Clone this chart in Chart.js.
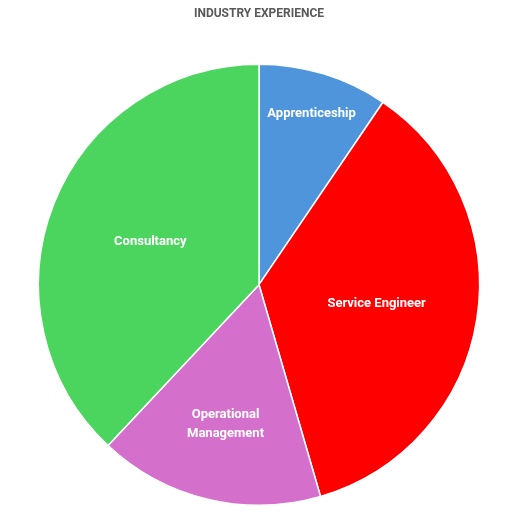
<!DOCTYPE html>
<html><head><meta charset="utf-8">
<script src="https://cdn.jsdelivr.net/npm/chart.js@4/dist/chart.umd.min.js"></script>
<style>html,body{margin:0;padding:0;background:#fff}#w{width:514px;height:532px}</style>
</head><body><div id="w"><canvas id="c"></canvas></div>
<script>
const categories = ["Apprenticeship", "Service Engineer", "Operational Management", "Consultancy"];
const labelLines = [["Apprenticeship"], ["Service Engineer"], ["Operational", "Management"], ["Consultancy"]];
const values = [9.5, 36, 16.5, 38];
const colors = ["#4F95DB", "#FF0000", "#D46FCB", "#4BD55E"];
const labelRadius = [0.81, 0.54, 0.65, 0.53];

const labelPlugin = {
  id: 'lbl',
  afterDatasetsDraw(chart) {
    const ctx = chart.ctx;
    const meta = chart.getDatasetMeta(0);
    ctx.save();
    ctx.fillStyle = '#fff';
    ctx.font = 'bold 13px Roboto, "Liberation Sans", sans-serif';
    ctx.textAlign = 'center';
    ctx.textBaseline = 'middle';
    meta.data.forEach((arc, i) => {
      const p = arc.getProps(['x','y','startAngle','endAngle','outerRadius'], true);
      const a = (p.startAngle + p.endAngle) / 2;
      const r = p.outerRadius * labelRadius[i];
      const x = p.x + Math.cos(a) * r, y = p.y + Math.sin(a) * r;
      const lines = labelLines[i];
      lines.forEach((t, k) => ctx.fillText(t, x, y + (k - (lines.length - 1) / 2) * 19));
    });
    ctx.restore();
  }
};

new Chart(document.getElementById('c'), {
  type: 'pie',
  data: { labels: categories, datasets: [{ data: values, backgroundColor: colors, borderColor: '#fff', borderWidth: 1.5 }] },
  options: {
    responsive: true, maintainAspectRatio: false, animation: false,
    layout: { padding: { left: 4, right: 0, top: 0, bottom: 26 } },
    plugins: {
      legend: { display: false }, tooltip: { enabled: false },
      title: { display: true, text: 'INDUSTRY EXPERIENCE', color: '#595959',
        font: { family: 'Roboto, "Liberation Sans", sans-serif', size: 12, weight: 'bold' },
        padding: { top: 7, bottom: 42 } }
    }
  },
  plugins: [labelPlugin]
});
</script></body></html>
